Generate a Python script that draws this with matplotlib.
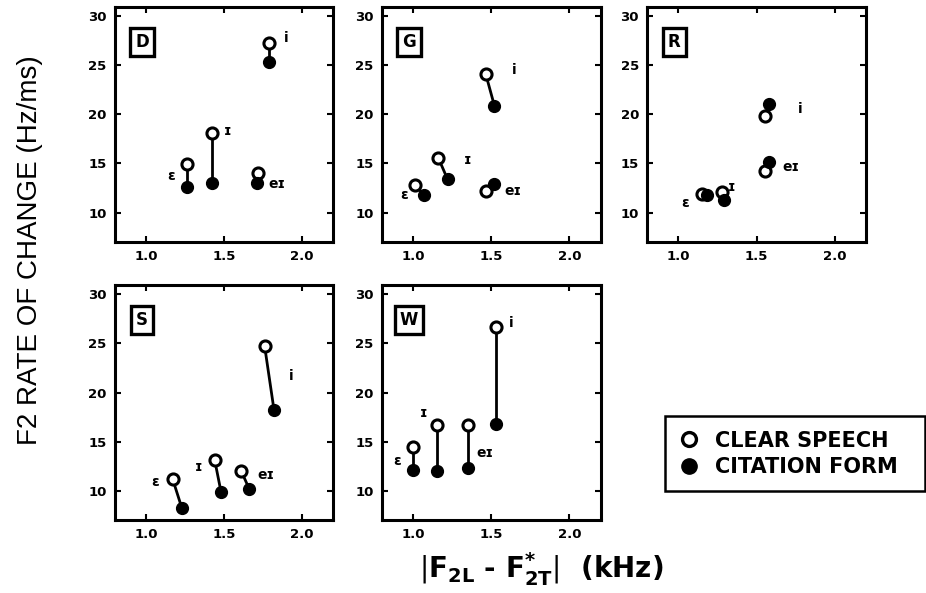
import matplotlib
matplotlib.use('Agg')
import matplotlib.pyplot as plt
from matplotlib.lines import Line2D
from matplotlib import font_manager

plt.rcParams['font.family'] = ['DejaVu Sans']
plt.rcParams['mathtext.fontset'] = 'dejavusans'

vowels = ['ɛ', 'ɪ', 'eɪ', 'i']

# D
D_x_clear = [1.26, 1.42, 1.72, 1.79]
D_y_clear = [14.9, 18.1, 14.0, 27.3]
D_x_cit = [1.26, 1.42, 1.71, 1.79]
D_y_cit = [12.6, 13.0, 13.0, 25.3]
D_lab = [(1.16, 13.7), (1.52, 18.3), (1.84, 12.9), (1.90, 27.8)]

# G
G_x_clear = [1.01, 1.16, 1.465, 1.465]
G_y_clear = [12.8, 15.6, 12.2, 24.1]
G_x_cit = [1.07, 1.22, 1.52, 1.52]
G_y_cit = [11.8, 13.4, 12.9, 20.9]
G_lab = [(0.94, 11.8), (1.35, 15.4), (1.64, 12.2), (1.65, 24.5)]

# R
R_x_clear = [1.15, 1.28, 1.555, 1.555]
R_y_clear = [11.9, 12.1, 14.2, 19.8]
R_x_cit = [1.18, 1.29, 1.58, 1.58]
R_y_cit = [11.8, 11.3, 15.1, 21.1]
R_lab = [(1.04, 11.0), (1.34, 12.6), (1.72, 14.6), (1.78, 20.6)]

# S
S_x_clear = [1.17, 1.44, 1.61, 1.76]
S_y_clear = [11.2, 13.1, 12.0, 24.7]
S_x_cit = [1.23, 1.48, 1.66, 1.82]
S_y_cit = [8.2, 9.9, 10.2, 18.2]
S_lab = [(1.06, 10.9), (1.34, 12.4), (1.77, 11.6), (1.93, 21.7)]

# W
W_x_clear = [1.00, 1.15, 1.35, 1.53]
W_y_clear = [14.4, 16.7, 16.7, 26.7]
W_x_cit = [1.00, 1.15, 1.35, 1.53]
W_y_cit = [12.1, 12.0, 12.3, 16.8]
W_lab = [(0.90, 13.0), (1.07, 17.9), (1.46, 13.8), (1.63, 27.1)]

panels = [
    ('D', D_x_clear, D_y_clear, D_x_cit, D_y_cit, D_lab, [0.124, 0.592]),
    ('G', G_x_clear, G_y_clear, G_x_cit, G_y_cit, G_lab, [0.4125, 0.592]),
    ('R', R_x_clear, R_y_clear, R_x_cit, R_y_cit, R_lab, [0.699, 0.592]),
    ('S', S_x_clear, S_y_clear, S_x_cit, S_y_cit, S_lab, [0.124, 0.123]),
    ('W', W_x_clear, W_y_clear, W_x_cit, W_y_cit, W_lab, [0.4125, 0.123]),
]

fig = plt.figure(figsize=(9.26, 5.93), dpi=100)

for name, xc, yc, xf, yf, lab, pos in panels:
    ax = fig.add_axes([pos[0], pos[1], 0.236, 0.397])
    for i in range(len(xc)):
        ax.plot([xc[i], xf[i]], [yc[i], yf[i]], color='black', lw=2, zorder=2)
    ax.plot(xc, yc, 'o', ms=8, mfc='white', mec='black', mew=2.2, ls='none', zorder=3)
    ax.plot(xf, yf, 'o', ms=8.5, mfc='black', mec='black', ls='none', zorder=4)
    for v, (lx, ly) in zip(vowels, lab):
        ax.text(lx, ly, v, fontsize=10, fontweight='bold', ha='center', va='center')
    ax.text(0.124, 0.85, name, transform=ax.transAxes, fontsize=12, fontweight='bold',
            ha='center', va='center',
            bbox=dict(boxstyle='square,pad=0.3', fc='white', ec='black', lw=2.4))
    ax.set_xlim(0.8, 2.2)
    ax.set_ylim(7, 31)
    ax.set_xticks([1.0, 1.5, 2.0])
    ax.set_xticklabels(['1.0', '1.5', '2.0'])
    ax.set_yticks([10, 15, 20, 25, 30])
    ax.tick_params(direction='in', top=True, right=True, length=4, width=1.5,
                   labelsize=9.5, pad=6)
    for t in ax.get_xticklabels() + ax.get_yticklabels():
        t.set_fontweight('bold')
    for s in ax.spines.values():
        s.set_linewidth(2.2)

names = {f.name for f in font_manager.fontManager.ttflist}
if 'Liberation Sans Narrow' in names:
    yfam, ysize = 'Liberation Sans Narrow', 24
else:
    yfam, ysize = 'Liberation Sans', 20
fig.text(0.032, 0.578, 'F2 RATE OF CHANGE (Hz/ms)', rotation=90, ha='center', va='center',
         fontsize=ysize, family=yfam)
fig.text(0.585, 0.04,
         r'$|\mathbf{F}_{\mathbf{2L}}$ - $\mathbf{F}_{\mathbf{2T}}^{\mathbf{*}}|$  (kHz)',
         ha='center', va='center', fontsize=20, fontweight='bold')

handles = [
    Line2D([], [], marker='o', ls='none', ms=10, mfc='white', mec='black', mew=2.4),
    Line2D([], [], marker='o', ls='none', ms=11, mfc='black', mec='black'),
]
leg = fig.legend(handles, ['CLEAR SPEECH', 'CITATION FORM'], loc='upper left',
                 bbox_to_anchor=(0.718, 0.17, 0.281, 0.1285), mode='expand',
                 fancybox=False, edgecolor='black',
                 prop={'weight': 'bold', 'size': 15}, handletextpad=0.8, handlelength=0.9,
                 borderpad=0.7, labelspacing=0.3, framealpha=1, borderaxespad=0)
leg.get_frame().set_linewidth(1.8)

fig.savefig('out.png', dpi=100)
